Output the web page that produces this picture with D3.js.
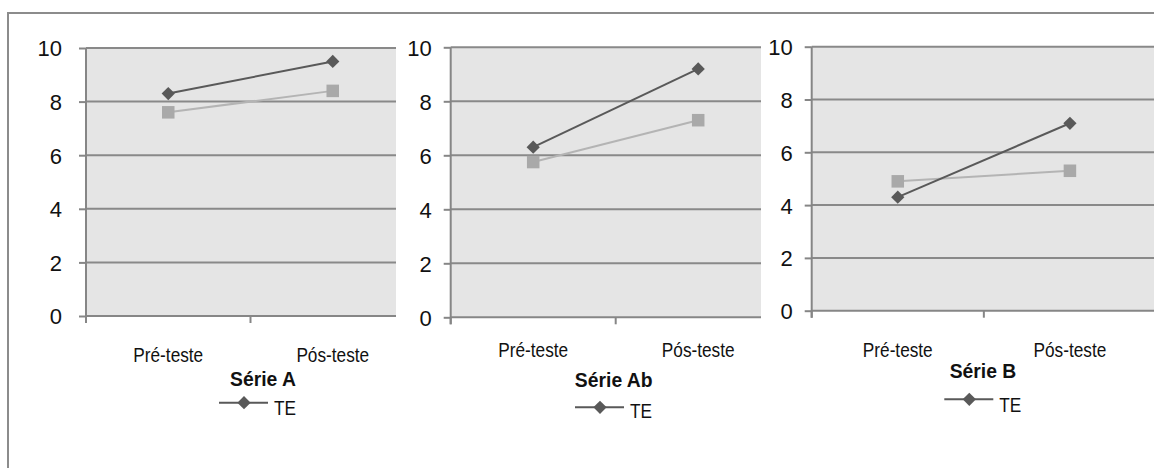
<!DOCTYPE html>
<html>
<head>
<meta charset="utf-8">
<script src="https://cdn.jsdelivr.net/npm/d3@7"></script>
<style>
  body { margin: 0; background: #fff; }
  svg { display: block; }
</style>
</head>
<body>
<svg id="chart" width="1154" height="468"></svg>
<script>
// Scores before and after, one small chart per series
const categories = ["Pré-teste", "Pós-teste"];
const panelTitles = ["Série A", "Série Ab", "Série B"];
const legendLabel = "TE";
const teValues = [[8.3, 9.5], [6.3, 9.2], [4.3, 7.1]];
const otherValues = [[7.6, 8.4], [5.75, 7.3], [4.9, 5.3]];
const yTicks = [0, 2, 4, 6, 8, 10];

// Frame of each small chart (each one is laid over the previous one)
const frames = [
  { bgLeft: 9,   left: 86,    right: 415,   top: 48,   bottom: 316,   labelGap: 22, catBase: 361.5, titleX: 263,   titleBase: 385.5, legX: 244,   legY: 402.7, teBase: 415 },
  { bgLeft: 396, left: 450.7, right: 780.7, top: 47.3, bottom: 317.3, labelGap: 17, catBase: 356.7, titleX: 613.7, titleBase: 386.5, legX: 600,   legY: 407.3, teBase: 418 },
  { bgLeft: 761, left: 811.7, right: 1156,  top: 46.7, bottom: 310.7, labelGap: 17, catBase: 356.7, titleX: 983,   titleBase: 378,   legX: 969.3, legY: 399.3, teBase: 411.7 }
];

const C = {
  plotBg: "#e5e5e5",
  grid: "#898989",
  axis: "#868686",
  dark: "#595959",
  light: "#a9a9a9",
  lightLine: "#b4b4b4",
  text: "#111"
};
const numFont = "'Liberation Sans', Arial, sans-serif";
const narrowFont = "'Liberation Sans Narrow', 'Arial Narrow', 'Liberation Sans', sans-serif";

const svg = d3.select("#chart");

const diamond = d3.symbol().type(d3.symbolDiamond2).size(112);
const square = d3.symbol().type(d3.symbolSquare2).size(200);

// squeeze a text element horizontally to a condensed look
function condense(sel, ratio) {
  sel.each(function () {
    const w = this.getComputedTextLength();
    d3.select(this).attr("textLength", w * ratio).attr("lengthAdjust", "spacingAndGlyphs");
  });
}

frames.forEach((f, i) => {
  const g = svg.append("g");

  // white chart background covering the chart underneath
  g.append("rect")
    .attr("x", f.bgLeft).attr("y", 14)
    .attr("width", 1200 - f.bgLeft).attr("height", 460)
    .attr("fill", "#fff");

  const x = d3.scaleBand().domain(categories).range([f.left, f.right]).padding(0);
  const y = d3.scaleLinear().domain([0, 10]).range([f.bottom, f.top]);
  const cx = c => x(c) + x.bandwidth() / 2;

  // plot area
  g.append("rect")
    .attr("x", f.left).attr("y", y(10))
    .attr("width", f.right - f.left).attr("height", y(0) - y(10))
    .attr("fill", C.plotBg);

  // horizontal gridlines
  g.selectAll("line.grid").data(yTicks.filter(t => t > 0)).join("line")
    .attr("class", "grid")
    .attr("x1", f.left).attr("x2", f.right)
    .attr("y1", d => y(d)).attr("y2", d => y(d))
    .attr("stroke", C.grid).attr("stroke-width", 2);

  // value axis
  const yAxis = d3.axisLeft(y).tickValues(yTicks).tickSize(7).tickPadding(f.labelGap - 7 + 2);
  const ya = g.append("g").attr("transform", `translate(${f.left},0)`).call(yAxis);
  ya.select(".domain").attr("stroke", C.axis).attr("stroke-width", 2)
    .attr("d", `M0,${y(10)}V${y(0) + 7}`);
  ya.selectAll(".tick line").attr("stroke", C.axis).attr("stroke-width", 2);
  ya.selectAll(".tick text")
    .attr("font-family", numFont).attr("font-size", 22).attr("fill", C.text)
    .attr("dy", "0.36em");

  // category axis with ticks between categories
  const bounds = categories.map(c => x(c)).concat([f.right]);
  g.append("line")
    .attr("x1", f.left).attr("x2", f.right)
    .attr("y1", y(0)).attr("y2", y(0))
    .attr("stroke", C.axis).attr("stroke-width", 2);
  g.selectAll("line.ctick").data(bounds).join("line")
    .attr("class", "ctick")
    .attr("x1", d => d).attr("x2", d => d)
    .attr("y1", y(0)).attr("y2", y(0) + 7)
    .attr("stroke", C.axis).attr("stroke-width", 2);
  g.selectAll("text.cat").data(categories).join("text")
    .attr("class", "cat")
    .attr("x", cx).attr("y", f.catBase)
    .attr("text-anchor", "middle")
    .attr("font-family", narrowFont).attr("font-size", 21).attr("fill", C.text)
    .text(d => d)
    .call(condense, 0.82);

  // series lines and markers
  const line = d3.line().x((d, k) => cx(categories[k])).y(d => y(d));
  g.append("path").datum(otherValues[i]).attr("d", line)
    .attr("fill", "none").attr("stroke", C.lightLine).attr("stroke-width", 2);
  g.append("path").datum(teValues[i]).attr("d", line)
    .attr("fill", "none").attr("stroke", C.dark).attr("stroke-width", 2);

  g.selectAll("path.sq").data(otherValues[i]).join("path")
    .attr("class", "sq")
    .attr("transform", (d, k) => `translate(${cx(categories[k])},${y(d)})`)
    .attr("d", square).attr("fill", C.light);
  g.selectAll("path.dm").data(teValues[i]).join("path")
    .attr("class", "dm")
    .attr("transform", (d, k) => `translate(${cx(categories[k])},${y(d)})`)
    .attr("d", diamond).attr("fill", C.dark);

  // title
  g.append("text")
    .attr("x", f.titleX).attr("y", f.titleBase)
    .attr("text-anchor", "middle")
    .attr("font-family", narrowFont).attr("font-weight", "bold")
    .attr("font-size", 21).attr("fill", C.text)
    .text(panelTitles[i])
    .call(condense, 0.92);

  // legend
  g.append("line")
    .attr("x1", f.legX - 25).attr("x2", f.legX + 24)
    .attr("y1", f.legY).attr("y2", f.legY)
    .attr("stroke", C.dark).attr("stroke-width", 2);
  g.append("path")
    .attr("transform", `translate(${f.legX},${f.legY})`)
    .attr("d", diamond).attr("fill", C.dark);
  g.append("text")
    .attr("x", f.legX + 30).attr("y", f.teBase)
    .attr("font-family", narrowFont).attr("font-size", 21).attr("fill", C.text)
    .text(legendLabel)
    .call(condense, 0.82);
});

// outer chart border
svg.append("path")
  .attr("d", "M8,470V13H1160")
  .attr("fill", "none").attr("stroke", "#8c8c8c").attr("stroke-width", 2);
</script>
</body>
</html>
